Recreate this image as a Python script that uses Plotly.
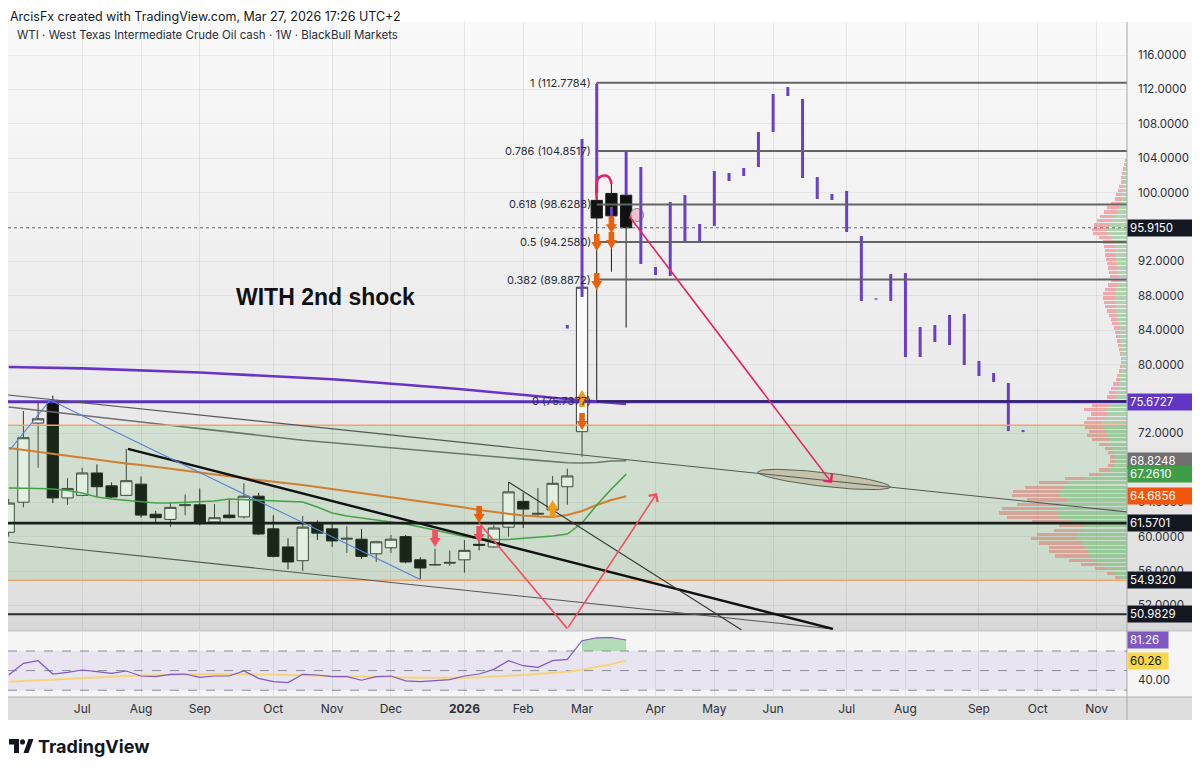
import numpy as np
import pandas as pd
import plotly.graph_objects as go

# ------------------------------------------------------------------ data
candle_dates = pd.date_range("2025-06-02", periods=43, freq="7D")
c_open = [60.5, 64.0, 73.2, 75.6, 64.5, 64.8, 67.4, 65.9, 64.8, 66.1, 62.6, 62.0, 63.6, 63.7, 61.7,
          62.5, 62.3, 64.7, 60.9, 58.8, 57.2, 61.6, 60.9, 59.7, 59.7, 58.0, 58.7, 60.0, 57.3, 56.7,
          56.9, 57.3, 59.1, 58.8, 61.1, 64.1, 62.6, 63.1, 65.8, 72.2, 99.1, 99.9, 99.7]
c_high = [64.4, 74.6, 75.6, 76.4, 66.8, 68.0, 68.4, 66.3, 70.2, 67.0, 63.0, 63.9, 64.9, 65.6, 63.8,
          64.4, 66.2, 65.1, 62.5, 59.8, 62.4, 61.9, 61.6, 61.2, 60.9, 59.5, 60.2, 60.2, 57.6, 58.6,
          58.4, 59.6, 60.0, 61.35, 66.35, 65.1, 65.65, 67.05, 67.9, 89.2, 112.78, 101.1, 104.95]
c_low = [60.0, 63.4, 68.0, 63.9, 63.7, 64.7, 64.6, 64.5, 64.7, 62.2, 61.5, 61.1, 62.5, 61.3, 61.6,
         62.1, 62.1, 60.2, 57.6, 56.2, 56.0, 59.6, 58.8, 58.1, 57.4, 57.05, 58.1, 56.9, 55.07, 56.6,
         56.6, 55.8, 58.4, 58.7, 60.0, 61.0, 62.3, 62.3, 63.7, 69.3, 75.74, 90.8, 84.3]
c_close = [63.9, 71.5, 73.7, 64.5, 65.6, 67.4, 65.8, 64.6, 66.5, 62.5, 62.2, 63.4, 63.7, 61.7, 62.2,
           62.2, 64.7, 60.3, 57.7, 57.05, 61.1, 60.4, 59.5, 59.8, 57.7, 59.4, 59.7, 57.05, 56.35, 56.75,
           57.0, 58.4, 59.0, 61.0, 65.2, 63.2, 62.7, 66.2, 67.05, 89.0, 97.05, 97.3, 95.915]

ma_purple = [79.72, 79.70, 79.67, 79.64, 79.60, 79.56, 79.50, 79.45, 79.38, 79.31, 79.24, 79.18, 79.13,
             79.08, 79.00, 78.92, 78.84, 78.75, 78.68, 78.60, 78.53, 78.42, 78.30, 78.18, 78.06, 77.94,
             77.82, 77.70, 77.55, 77.40, 77.25, 77.10, 76.96, 76.82, 76.65, 76.48, 76.32, 76.15, 76.00,
             75.85, 75.70, 75.55, 75.42]
ma_gray = [75.07, 74.87, 74.69, 74.49, 74.30, 74.10, 73.91, 73.72, 73.52, 73.33, 73.14, 72.94, 72.74,
           72.56, 72.36, 72.16, 71.98, 71.78, 71.58, 71.40, 71.21, 71.06, 70.92, 70.77, 70.62, 70.48,
           70.33, 70.19, 70.03, 69.90, 69.74, 69.60, 69.45, 69.30, 69.16, 69.01, 68.86, 68.71, 68.58,
           68.56, 68.62, 68.79, 68.82]
ma_orange = [70.30, 70.07, 69.84, 69.60, 69.37, 69.20, 68.97, 68.73, 68.50, 68.33, 68.09, 67.86, 67.63,
             67.45, 67.22, 67.05, 66.81, 66.58, 66.41, 66.23, 66.00, 65.77, 65.53, 65.30, 65.07, 64.84,
             64.60, 64.37, 64.14, 63.91, 63.67, 63.38, 63.09, 62.86, 62.63, 62.45, 62.34, 62.28, 62.51,
             62.98, 63.67, 64.26, 64.69]
ma_green = [65.65, 65.65, 65.59, 65.53, 65.36, 65.07, 64.60, 64.37, 64.20, 64.02, 63.91, 63.91, 63.97,
            64.02, 64.14, 64.37, 64.31, 64.26, 64.14, 64.08, 64.02, 63.44, 62.74, 62.40, 62.16, 61.93,
            61.76, 61.47, 61.12, 60.77, 60.42, 60.01, 59.78, 59.66, 59.66, 59.78, 59.95, 60.07, 60.30,
            61.58, 63.67, 65.53, 67.26]

rsi_vals = [45.5, 57.4, 60.1, 46.5, 48.2, 50.6, 48.9, 47.2, 49.6, 44.5, 43.8, 46.2, 46.5, 43.1, 44.5,
            44.5, 49.6, 42.1, 38.7, 37.8, 46.2, 45.5, 43.8, 43.8, 40.2, 43.8, 44.5, 39.5, 38.8, 39.5,
            40.8, 44.5, 46.5, 51.3, 60.1, 55.0, 53.3, 60.1, 61.5, 80.5, 83.5, 83.8, 81.26]
rsi_ma = [38.7, 39.5, 40.3, 41.0, 41.8, 42.5, 43.2, 43.8, 44.4, 45.0, 45.5, 45.9, 46.2, 46.4, 46.5,
          46.5, 46.4, 46.2, 45.9, 45.5, 45.1, 44.8, 44.5, 44.2, 43.9, 43.6, 43.3, 43.0, 42.7, 42.6,
          42.6, 42.8, 43.2, 43.8, 44.6, 45.5, 46.5, 47.6, 48.9, 51.0, 53.5, 56.5, 60.26]
rsi_levels = [70, 50, 30]

proj_dates = pd.date_range("2026-02-23", periods=32, freq="7D")
proj_high = [84.6, 106.23, 112.63, 98.33, 104.8, 102.98, 91.35, 98.91, 99.72, 96.35, 102.51, 102.28,
             102.86, 107.05, 111.47, 112.28, 110.88, 101.81, 99.84, 100.19, 94.95, 87.7, 90.53, 90.65,
             84.37, 84.6, 85.77, 85.88, 80.42, 79.02, 77.86, 72.4]
proj_low = [84.2, 87.86, 99.95, 96.12, 99.7, 91.7, 90.42, 90.3, 94.37, 94.14, 96.12, 101.35,
            101.93, 102.98, 107.05, 111.23, 101.7, 99.26, 99.14, 95.42, 87.4, 87.55, 87.4, 80.88,
            80.88, 82.63, 82.28, 79.95, 78.67, 77.98, 72.28, 72.15]

# visible-range volume profile (rows from 103.75 down to 55.25, 0.5 apart)
vp_price = [103.75 - 0.5 * k for k in range(98)]
vp_up = [1, 2, 2, 3, 3, 3, 4, 4, 5, 5, 6, 8, 10, 13, 15, 18, 20, 19, 15, 13,
         12, 12, 11, 11, 10, 9, 9, 8, 8, 10, 11, 12, 12, 12, 11, 11, 10, 9, 8, 8,
         7, 7, 7, 6, 6, 5, 5, 5, 5, 6, 7, 7, 8, 9, 10, 11, 14, 18, 21, 19,
         22, 25, 23, 21, 20, 18, 17, 15, 13, 12, 12, 13, 18, 25, 42, 58, 63, 67, 67, 60,
         65, 70, 70, 67, 56, 43, 45, 49, 50, 45, 42, 39, 37, 33, 27, 20, 13, 7]
vp_down = [1, 1, 2, 2, 3, 3, 4, 5, 6, 7, 10, 12, 13, 14, 15, 15, 15, 15, 13, 11,
           11, 10, 11, 10, 10, 10, 9, 9, 8, 9, 11, 12, 12, 11, 11, 9, 8, 7, 7, 5,
           5, 4, 3, 3, 2, 2, 1, 1, 2, 2, 3, 4, 6, 7, 8, 9, 12, 17, 22, 17,
           18, 18, 19, 17, 20, 17, 11, 7, 6, 5, 5, 6, 10, 13, 20, 30, 39, 47, 48, 40,
           45, 55, 58, 53, 39, 25, 28, 41, 46, 43, 36, 39, 35, 25, 19, 12, 7, 5]

fib_ratio = [1, 0.786, 0.618, 0.5, 0.382, 0]
fib_price = [112.7784, 104.8517, 98.6288, 94.2580, 89.8872, 75.7377]
fib_anchor = "2026-03-09"

hline_purple = 75.6727
hline_black = [61.5701, 50.9829]
zone_top, zone_bottom = 72.95, 54.932
last_price = 95.915

# drawings: (time0, price0, time1, price1)
tl_upper_gray = ("2025-06-01 16:00", 76.47, "2026-11-17", 62.86)
tl_lower_gray = ("2025-06-01 16:00", 59.37, "2026-06-29 12:00", 49.26)
tl_black_thick = ("2025-07-28 19:00", 70.2, "2026-06-29 12:00", 49.26)
tl_black_thin = ("2026-01-26", 66.35, "2026-05-17", 49.14)
tl_blue_t = ["2025-06-02 12:00", "2025-06-21 17:00", "2025-12-15"]
tl_blue_p = [70.07, 75.88, 55.0]
arrow_crimson = ("2026-03-24", 97.4, "2026-06-29", 66.23)
arrow_v_t = ["2026-01-12", "2026-02-23", "2026-04-06 17:00"]
arrow_v_p = [61.58, 49.3, 65.07]
hook_t = ["2026-03-09", "2026-03-09 07:00", "2026-03-11 10:00", "2026-03-14 12:00", "2026-03-16 02:00"]
hook_p = [99.14, 101.47, 101.93, 101.85, 101.0]
ellipse_left = ("2026-05-24 19:00", 67.51)
ellipse_right = ("2026-07-26 17:00", 65.77)
ellipse_half_height = 0.8
pink_dot = ("2026-03-28 05:00", 97.4)

sig_red_dn_t = ["2025-12-22", "2026-01-12"]
sig_red_dn_p = [58.79, 59.26]
sig_org_dn_t = ["2026-01-12", "2026-03-02", "2026-03-09", "2026-03-09", "2026-03-16", "2026-03-16"]
sig_org_dn_p = [61.58, 72.4, 93.2, 88.67, 95.27, 93.44]
sig_amb_up_t = ["2026-02-16", "2026-03-02"]
sig_amb_up_p = [64.26, 77.05]

price_labels = [95.9150, 75.6727, 68.8248, 67.2610, 64.6856, 61.5701, 54.9320, 50.9829]
price_label_bg = ["#131722", "#6236c5", "#6f6f6f", "#3f9c47", "#f2560e", "#131722", "#131722", "#131722"]
price_ticks = [52, 56, 60, 64, 72, 80, 84, 88, 92, 100, 104, 108, 112, 116]
rsi_labels = [81.26, 60.26]
rsi_label_bg = ["#7e57c2", "#f7d84a"]
rsi_label_fg = ["white", "#131722"]
rsi_ticks = [40]

month_ticks = ["2025-06-02", "2025-07-07", "2025-08-04", "2025-09-01", "2025-10-06", "2025-11-03",
               "2025-12-01", "2026-01-05", "2026-02-02", "2026-03-02", "2026-04-06", "2026-05-04",
               "2026-06-01", "2026-07-06", "2026-08-03", "2026-09-07", "2026-10-05", "2026-11-02"]
month_text = ["Jun", "Jul", "Aug", "Sep", "Oct", "Nov", "Dec", "<b>2026</b>", "Feb", "Mar", "Apr", "May",
              "Jun", "Jul", "Aug", "Sep", "Oct", "Nov"]

# ------------------------------------------------------------------ geometry
# the page adds an 8px body margin, so the figure is drawn 8px smaller and offset
OFF = 8
W, H = 1200 - OFF, 771 - OFF
ML, MR, MT, MB = 0, 73, 14, 74
PW, PH = W - ML - MR, H - MT - MB


def pxx(px):  # page x -> paper
    return (px - OFF - ML) / PW


def pxy(py):  # page y -> paper
    return (H - MB - (py - OFF)) / PH


FONT = "Inter, Roboto, Arial, sans-serif"
fig = go.Figure()

# volume profile
fig.add_trace(go.Bar(orientation="h", y=vp_price, x=vp_up, width=0.38, xaxis="x3", yaxis="y",
                     marker=dict(color="rgba(92,178,96,0.45)", line=dict(width=0)), hoverinfo="skip"))
fig.add_trace(go.Bar(orientation="h", y=vp_price, x=vp_down, width=0.38, xaxis="x3", yaxis="y",
                     marker=dict(color="rgba(240,110,115,0.55)", line=dict(width=0)), hoverinfo="skip"))

# moving averages
for vals, col, wd in [(ma_purple, "#6a32c8", 2.6), (ma_gray, "#6e6e6e", 1.6),
                      (ma_orange, "#e8762c", 2.0), (ma_green, "#43a047", 1.6)]:
    fig.add_trace(go.Scatter(x=candle_dates, y=vals, mode="lines", line=dict(color=col, width=wd),
                             hoverinfo="skip"))

# small pink marker beside last candle
fig.add_trace(go.Scatter(x=[pink_dot[0]], y=[pink_dot[1]], mode="markers",
                         marker=dict(size=13, color="rgba(245,190,200,0.9)", line=dict(color="#888", width=1)),
                         hoverinfo="skip"))

# candles
fig.add_trace(go.Candlestick(x=candle_dates, open=c_open, high=c_high, low=c_low, close=c_close,
                             increasing=dict(line=dict(color="#3a3a3a", width=1), fillcolor="#fbfbfb"),
                             decreasing=dict(line=dict(color="#1a1a1a", width=1), fillcolor="#111111"),
                             whiskerwidth=0, hoverinfo="skip", xaxis="x", yaxis="y"))

# projected bars
px_, py_ = [], []
for d, hi, lo in zip(proj_dates, proj_high, proj_low):
    px_ += [d, d, None]
    py_ += [hi, lo, None]
fig.add_trace(go.Scatter(x=px_, y=py_, mode="lines", line=dict(color="#6a3fc8", width=3), hoverinfo="skip"))

# hook curve
fig.add_trace(go.Scatter(x=hook_t, y=hook_p, mode="lines", line=dict(color="#e91e63", width=2.5, shape="spline"),
                         hoverinfo="skip"))

# ellipse (tilted) built from its two anchor points
A = 4.1  # days per price unit on screen
t0 = pd.Timestamp(ellipse_left[0])
dx = (pd.Timestamp(ellipse_right[0]) - t0).total_seconds() / 86400
dy = (ellipse_right[1] - ellipse_left[1]) * A
cx, cy = dx / 2, ellipse_left[1] * A + dy / 2
a = np.hypot(dx, dy) / 2
b = ellipse_half_height * A
ux, uy = dx / (2 * a), dy / (2 * a)
tt = np.linspace(0, 2 * np.pi, 90)
ex = cx + a * np.cos(tt) * ux - b * np.sin(tt) * uy
ey = cy + a * np.cos(tt) * uy + b * np.sin(tt) * ux
fig.add_trace(go.Scatter(x=[t0 + pd.Timedelta(days=float(v)) for v in ex], y=list(ey / A), mode="lines",
                         fill="toself", fillcolor="rgba(205,160,140,0.45)", line=dict(color="#555", width=1),
                         hoverinfo="skip"))

# RSI pane
ob_dates = candle_dates[39:]
fig.add_trace(go.Scatter(x=ob_dates, y=[rsi_levels[0]] * len(ob_dates), mode="lines",
                         line=dict(width=0, color="rgba(0,0,0,0)"), xaxis="x", yaxis="y2", hoverinfo="skip"))
fig.add_trace(go.Scatter(x=ob_dates, y=rsi_vals[39:], mode="lines", fill="tonexty",
                         fillcolor="rgba(100,190,110,0.45)", line=dict(width=0, color="rgba(0,0,0,0)"),
                         xaxis="x", yaxis="y2", hoverinfo="skip"))
fig.add_trace(go.Scatter(x=candle_dates, y=rsi_ma, mode="lines", line=dict(color="#f6d57a", width=2),
                         xaxis="x", yaxis="y2", hoverinfo="skip"))
fig.add_trace(go.Scatter(x=candle_dates, y=rsi_vals, mode="lines", line=dict(color="#7e57c2", width=1.2),
                         xaxis="x", yaxis="y2", hoverinfo="skip"))

# ------------------------------------------------------------------ shapes
shapes = []
gy = [22, 200, 400, 600, 632]
gv = [249, 242, 234, 224, 214]
for y0 in range(22, 631, 6):
    v = int(round(np.interp(y0 + 3, gy, gv)))
    shapes.append(dict(type="rect", xref="paper", yref="paper", x0=pxx(0), x1=pxx(1200),
                       y0=pxy(min(y0 + 6, 631)), y1=pxy(y0), fillcolor=f"rgb({v},{v},{v})",
                       line=dict(width=0), layer="below"))
shapes.append(dict(type="rect", xref="paper", yref="paper", x0=pxx(0), x1=pxx(1200), y0=pxy(697), y1=pxy(631),
                   fillcolor="#f5f5f5", line=dict(width=0), layer="below"))
shapes.append(dict(type="rect", xref="paper", yref="paper", x0=pxx(0), x1=pxx(1200), y0=pxy(720), y1=pxy(697),
                   fillcolor="#dedede", line=dict(width=0), layer="below"))
shapes.append(dict(type="rect", xref="paper", yref="y2", x0=0, x1=1, y0=rsi_levels[2], y1=rsi_levels[0],
                   fillcolor="rgba(126,87,194,0.10)", line=dict(width=0), layer="below"))
for lv in rsi_levels:
    shapes.append(dict(type="line", xref="paper", yref="y2", x0=0, x1=1, y0=lv, y1=lv,
                       line=dict(color="#8a8a96", width=1, dash="dash"), layer="between"))

# green zone
shapes.append(dict(type="rect", xref="paper", yref="y", x0=0, x1=1, y0=zone_bottom, y1=zone_top,
                   fillcolor="rgba(76,175,80,0.14)", line=dict(width=0), layer="above"))
for lv in (zone_top, zone_bottom):
    shapes.append(dict(type="line", xref="paper", yref="y", x0=0, x1=1, y0=lv, y1=lv,
                       line=dict(color="#f2a56a", width=1.6), layer="above"))

# horizontal lines
shapes.append(dict(type="line", xref="paper", yref="y", x0=0, x1=1, y0=last_price, y1=last_price,
                   line=dict(color="#666", width=1, dash="dot"), layer="above"))
shapes.append(dict(type="line", xref="paper", yref="y", x0=0, x1=1, y0=hline_purple, y1=hline_purple,
                   line=dict(color="#5a2fbf", width=3), layer="above"))
shapes.append(dict(type="line", xref="paper", yref="y", x0=0, x1=1, y0=hline_black[0], y1=hline_black[0],
                   line=dict(color="#1b1f1b", width=2.6), layer="above"))
shapes.append(dict(type="line", xref="paper", yref="y", x0=0, x1=1, y0=hline_black[1], y1=hline_black[1],
                   line=dict(color="#2a2a2a", width=2), layer="above"))

# fib levels
for fp in fib_price:
    col = "#2a2350" if fp == fib_price[-1] else "#646464"
    shapes.append(dict(type="line", xref="x", yref="y", x0=fib_anchor, x1="2027-12-31", y0=fp, y1=fp,
                       line=dict(color=col, width=2), layer="above"))

# trend lines
for tl, col, wd in [(tl_upper_gray, "#555", 1.1), (tl_lower_gray, "#555", 1.1),
                    (tl_black_thick, "#111", 2.4), (tl_black_thin, "#333", 1.1)]:
    shapes.append(dict(type="line", xref="x", yref="y", x0=tl[0], y0=tl[1], x1=tl[2], y1=tl[3],
                       line=dict(color=col, width=wd), layer="above"))
for i in range(len(tl_blue_t) - 1):
    shapes.append(dict(type="line", xref="x", yref="y", x0=tl_blue_t[i], y0=tl_blue_p[i],
                       x1=tl_blue_t[i + 1], y1=tl_blue_p[i + 1], line=dict(color="#5b7fd6", width=1.1),
                       layer="above"))
shapes.append(dict(type="line", xref="x", yref="y", x0=arrow_v_t[0], y0=arrow_v_p[0], x1=arrow_v_t[1],
                   y1=arrow_v_p[1], line=dict(color="#f0505e", width=1.6), layer="above"))

# signal arrows (pixel-sized, anchored at their tips)
DOWN = "M0,0 L-5.5,9 L-2.8,9 L-2.8,17 L2.8,17 L2.8,9 L5.5,9 Z"
UP = "M0,0 L-5.5,-9 L-2.8,-9 L-2.8,-17 L2.8,-17 L2.8,-9 L5.5,-9 Z"
for ts, ps, path, col in [(sig_red_dn_t, sig_red_dn_p, DOWN, "#ef5160"),
                          (sig_org_dn_t, sig_org_dn_p, DOWN, "#e8620c"),
                          (sig_amb_up_t, sig_amb_up_p, UP, "#f39c1a")]:
    for t_, p_ in zip(ts, ps):
        shapes.append(dict(type="path", xref="x", yref="y", xsizemode="pixel", ysizemode="pixel",
                           xanchor=t_, yanchor=p_, path=path, fillcolor=col, line=dict(width=0),
                           layer="above"))

# separators / borders
shapes.append(dict(type="line", xref="paper", yref="paper", x0=pxx(0), x1=pxx(1200), y0=pxy(631), y1=pxy(631),
                   line=dict(color="#c2c2c2", width=1)))
shapes.append(dict(type="line", xref="paper", yref="paper", x0=pxx(0), x1=pxx(1200), y0=pxy(697), y1=pxy(697),
                   line=dict(color="#b5b5b5", width=1)))
shapes.append(dict(type="line", xref="paper", yref="paper", x0=1, x1=1, y0=pxy(720), y1=pxy(22),
                   line=dict(color="#a8a8a8", width=1)))

# TradingView logo
logo = "#131722"
shapes.append(dict(type="rect", xref="paper", yref="paper", x0=pxx(9), x1=pxx(19), y0=pxy(744.5), y1=pxy(739),
                   fillcolor=logo, line=dict(width=0)))
shapes.append(dict(type="rect", xref="paper", yref="paper", x0=pxx(14), x1=pxx(19), y0=pxy(753), y1=pxy(739),
                   fillcolor=logo, line=dict(width=0)))
shapes.append(dict(type="circle", xref="paper", yref="paper", x0=pxx(20), x1=pxx(25), y0=pxy(744.5),
                   y1=pxy(739.3), fillcolor=logo, line=dict(width=0)))
shapes.append(dict(type="path", xref="paper", yref="paper",
                   path=f"M{pxx(23.5)},{pxy(753)} L{pxx(28.5)},{pxy(753)} L{pxx(33.5)},{pxy(739)} "
                        f"L{pxx(28.5)},{pxy(739)} Z", fillcolor=logo, line=dict(width=0)))

# ------------------------------------------------------------------ annotations
ann = []
ann.append(dict(text="ArcisFx created with TradingView.com, Mar 27, 2026 17:26 UTC+2", xref="paper",
                yref="paper", x=pxx(9), y=pxy(OFF), xanchor="left", yanchor="top", showarrow=False,
                borderpad=0, font=dict(size=12.5, color="#131722", family=FONT)))
ann.append(dict(text="WTI · West Texas Intermediate Crude Oil cash · 1W · BlackBull Markets", xref="paper",
                yref="paper", x=pxx(15), y=pxy(35), xanchor="left", yanchor="middle", showarrow=False,
                font=dict(size=11.5, color="#2a2e39", family=FONT)))
ann.append(dict(text="<b>WITH 2nd shock</b>", xref="paper", yref="paper", x=pxx(325), y=pxy(297),
                xanchor="center", yanchor="middle", showarrow=False,
                font=dict(size=23, color="#111", family="Liberation Sans, Arial, sans-serif")))
ann.append(dict(text="<b>TradingView</b>", xref="paper", yref="paper", x=pxx(36), y=pxy(746),
                xanchor="left", yanchor="middle", showarrow=False,
                font=dict(size=18, color="#131722", family=FONT)))
for r, p in zip(fib_ratio, fib_price):
    ann.append(dict(text=f"{r:g} ({p:.4f})", xref="x", yref="y", x=fib_anchor, y=p, xanchor="right",
                    yanchor="middle", xshift=-4, showarrow=False, font=dict(size=11, color="#2a2e39", family=FONT)))
for p, bg in zip(price_labels, price_label_bg):
    ann.append(dict(text=f"{p:.4f}", xref="paper", yref="y", x=1, y=p, xanchor="left", yanchor="middle",
                    showarrow=False, bgcolor=bg, borderpad=2, width=60, height=12, align="left",
                    font=dict(size=11.5, color="white", family=FONT)))
for p, bg, fg in zip(rsi_labels, rsi_label_bg, rsi_label_fg):
    ann.append(dict(text=f"{p:.2f}", xref="paper", yref="y2", x=1, y=p, xanchor="left", yanchor="middle",
                    showarrow=False, bgcolor=bg, borderpad=2, width=36, height=12, align="left",
                    font=dict(size=11.5, color=fg, family=FONT)))
ann.append(dict(x=arrow_crimson[2], y=arrow_crimson[3], ax=arrow_crimson[0], ay=arrow_crimson[1],
                xref="x", yref="y", axref="x", ayref="y", text="", showarrow=True, arrowhead=4,
                arrowsize=1.3, arrowwidth=1.6, arrowcolor="#e91e63", standoff=0))
ann.append(dict(x=arrow_v_t[2], y=arrow_v_p[2], ax=arrow_v_t[1], ay=arrow_v_p[1],
                xref="x", yref="y", axref="x", ayref="y", text="", showarrow=True, arrowhead=4,
                arrowsize=1.3, arrowwidth=1.6, arrowcolor="#f0505e", standoff=0))

fig.update_layout(
    width=W, height=H, margin=dict(l=ML, r=MR, t=MT, b=MB, pad=0),
    paper_bgcolor="white", plot_bgcolor="rgba(0,0,0,0)", showlegend=False,
    barmode="stack", bargap=0, boxgap=0.15, boxgroupgap=0.1,
    font=dict(family=FONT, color="#2a2e39"),
    shapes=shapes, annotations=ann,
    xaxis=dict(type="date", range=["2025-06-01 16:00", "2026-11-16 12:00"], anchor="y2",
               tickvals=month_ticks, ticktext=month_text, showgrid=True, gridcolor="rgba(0,0,0,0.07)",
               zeroline=False, showline=False, ticks="", tickfont=dict(size=12, color="#2a2e39"),
               rangeslider=dict(visible=False), ticklabelstandoff=3, automargin=False),
    xaxis3=dict(overlaying="x", anchor="y", range=[PW, 0], visible=False, fixedrange=True),
    yaxis=dict(domain=[pxy(630), 1], range=[49.14, 119.84], side="right", anchor="x", tickvals=price_ticks,
               tickformat=".4f", showgrid=True, gridcolor="rgba(0,0,0,0.05)", zeroline=False, ticks="",
               tickfont=dict(size=11.5, color="#2a2e39"), ticklabelstandoff=10, automargin=False),
    yaxis2=dict(domain=[0, pxy(632)], range=[23.06, 89.4], side="right", anchor="x", tickvals=rsi_ticks,
                tickformat=".2f", showgrid=False, zeroline=False, ticks="",
                tickfont=dict(size=11.5, color="#2a2e39"), ticklabelstandoff=10, automargin=False),
)

fig.write_html("out.html")
